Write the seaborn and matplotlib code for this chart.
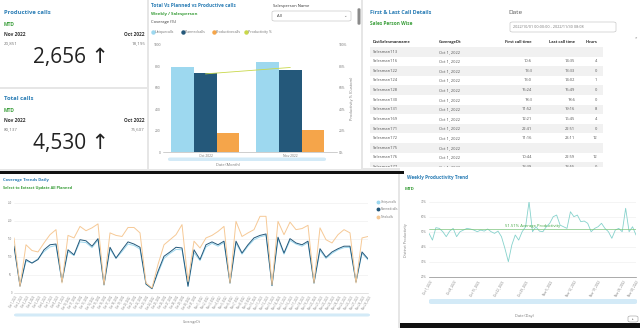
import numpy as np
import pandas as pd
import matplotlib
matplotlib.use("Agg")
import matplotlib.pyplot as plt
import seaborn as sns
from matplotlib.patches import Rectangle, FancyBboxPatch
from matplotlib.lines import Line2D
from matplotlib.transforms import Bbox, TransformedBbox

# ---------------- data ----------------
kpi_periods = ["Nov 2022", "Oct 2022"]
productive_calls = [20851, 18195]
total_calls = [80137, 75607]

months = ["Oct 2022", "Nov 2022"]
unique_calls = [794, 841]
planned_calls = [738, 766]
productive_month = [178, 206]
productivity_pct = [73, 79]

table_cols = ["DistSalesmanname", "CoverageDt", "First call time", "Last call time", "Hours"]
salesmen = ["Salesman113", "Salesman116", "Salesman122", "Salesman124", "Salesman128",
            "Salesman130", "Salesman131", "Salesman169", "Salesman171", "Salesman172",
            "Salesman175", "Salesman176", "Salesman177"]
coverage_dt = ["Oct 1, 2022"] * 13
first_call = ["", "10:6", "13:3", "13:0", "15:24", "18:3", "11:52", "12:21", "22:41",
              "11:16", "", "10:44", "13:39"]
last_call = ["", "14:35", "13:33", "14:02", "15:49", "18:6", "19:16", "16:45", "22:51",
             "23:11", "", "22:59", "13:55"]
hours = ["", "4", "0", "1", "0", "0", "8", "4", "0", "12", "", "12", "0"]

cov_unique = [135, 22, 88, 84, 95, 115, 128, 132, 30, 115, 104, 142, 140, 126, 147,
              22, 122, 96, 115, 136, 132, 122, 24, 12, 55, 96, 110, 121, 120, 18,
              112, 90, 128, 138, 130, 140, 27, 138, 108, 130, 148, 156, 160, 20, 150,
              108, 146, 136, 130, 140, 27, 118, 96, 110, 120, 126, 127, 30, 110, 92]
cov_planned = [130, 19, 93, 83, 93, 120, 134, 136, 32, 120, 106, 148, 145, 130, 151,
               23, 127, 97, 120, 142, 136, 127, 25, 12, 60, 102, 114, 127, 125, 19,
               120, 93, 134, 142, 134, 144, 28, 144, 111, 134, 153, 160, 164, 21, 155,
               111, 151, 139, 134, 144, 28, 123, 99, 114, 123, 130, 130, 31, 114, 95]
cov_total = [153, 19, 134, 118, 114, 139, 162, 176, 28, 160, 153, 185, 173, 181, 192,
             23, 167, 160, 157, 182, 182, 167, 28, 14, 79, 134, 148, 162, 190, 32,
             144, 125, 153, 160, 171, 185, 28, 199, 157, 167, 176, 213, 213, 23, 199,
             162, 197, 176, 179, 188, 28, 181, 148, 139, 162, 176, 167, 28, 153, 157]

prod_daily = [48.9, 44.4, 52.7, 52.2, 50.0, 46.7, 50.4, 52.2, 46.7, 50.0, 51.1, 52.2,
              51.8, 51.1, 50.0, 51.1, 50.4, 51.8, 50.0, 48.9, 50.4, 46.7, 38.9, 30.0,
              41.1, 47.8, 44.4, 50.0, 53.3, 70.0, 50.0, 53.3, 50.4, 50.0, 53.3, 55.6,
              60.0, 61.1, 54.4, 53.3, 52.2, 63.3, 60.0, 61.1, 56.7, 57.1, 55.6, 50.0,
              52.2, 53.3, 55.6, 52.2, 50.0, 45.6, 51.1, 52.2, 50.0, 65.6, 50.0, 53.3, 47.8]
avg_productivity = 51.51

cov_days = [d.strftime("%b %-d, %Y") for d in pd.date_range("2022-10-01", periods=len(cov_total))]
prod_days = [d.strftime("%b %-d, %Y") for d in pd.date_range("2022-10-01", periods=len(prod_daily))]

# ---------------- style ----------------
sns.set_theme(style="white")
plt.rcParams["font.family"] = ["Open Sans", "DejaVu Sans"]

TEAL = "#2a7db5"
GREEN = "#3a9e3a"
DARK = "#333333"
GREY = "#777777"
C_UNIQUE = "#9dd8ef"
C_PLANNED = "#24587a"
C_PROD = "#f5a54a"
C_PCT = "#c9d84a"
C_TOTAL = "#f6c996"
SCROLL = "#d3eaf7"

W, H = 640, 328
fig = plt.figure(figsize=(6.4, 3.28), dpi=100)
fig.patch.set_facecolor("#e6e6e6")


def rect(x0, y0, x1, y1):
    return [x0 / W, 1 - y1 / H, (x1 - x0) / W, (y1 - y0) / H]


def box(x0, y0, x1, y1, color, z=-1, ec="none", lw=0):
    fig.patches.append(Rectangle((x0 / W, 1 - y1 / H), (x1 - x0) / W, (y1 - y0) / H,
                                 transform=fig.transFigure, facecolor=color,
                                 edgecolor=ec, lw=lw, zorder=z))


def rbox(x0, y0, x1, y1, color, ec="none", lw=0.4, z=-0.5):
    fig.patches.append(FancyBboxPatch((x0 / W, 1 - y1 / H), (x1 - x0) / W, (y1 - y0) / H,
                                      boxstyle="round,pad=0,rounding_size=0.004",
                                      transform=fig.transFigure, facecolor=color,
                                      edgecolor=ec, lw=lw, zorder=z))


def txt(x, y, s, size=3.5, color=DARK, ha="left", va="center", weight="normal", **kw):
    return fig.text(x / W, 1 - y / H, s, fontsize=size, color=color, ha=ha, va=va,
                    fontweight=weight, **kw)


# panel backgrounds
box(0, 0, 147, 87, "white")
box(0, 89, 147, 169, "white")
box(149, 0, 361, 169, "white")
box(363, 0, 640, 168, "white")
box(0, 174, 398, 328, "white")
box(400, 168, 640, 323, "white")
box(0, 170.5, 404, 173.5, "#111111", z=-0.8)
box(400, 323, 640, 328, "#111111", z=-0.8)

# ---------------- KPI cards ----------------
def kpi(y0, title, values):
    txt(4, y0 + 12, title, 4.2, TEAL, weight="bold")
    txt(4, y0 + 24, "MTD", 3.5, GREEN, weight="bold")
    txt(4, y0 + 34, kpi_periods[0], 3.4, DARK, weight="bold")
    txt(4, y0 + 43, f"{values[0]:,}", 3.2, GREY)
    txt(145, y0 + 34, kpi_periods[1], 3.4, DARK, ha="right", weight="bold")
    txt(145, y0 + 43, f"{values[1]:,}", 3.2, GREY, ha="right")
    txt(71, y0 + 58, f"{values[0] - values[1]:,} \u2191", 15, "#222222", ha="center")


kpi(0, "Productive calls", productive_calls)
kpi(86, "Total calls", total_calls)

# ---------------- monthly bar chart ----------------
txt(151, 5.5, "Total Vs Planned vs Productive calls", 3.4, TEAL, weight="bold")
txt(151, 14, "Weekly / Salesperson", 3.2, GREEN, weight="bold")
txt(151, 21.5, "Coverage (%)", 3.0, DARK)
txt(273, 6, "Salesperson Name", 3.0, DARK)
rbox(272, 11, 351, 21, "white", ec="#bbbbbb")
txt(277, 16, "All", 3.0, DARK)
txt(345, 16, "\u2304", 3.0, GREY, ha="center")
rbox(357.5, 8, 360.5, 25, "#8a8a8a", z=-0.4)

legend_items = [(151, "Uniquecalls", C_UNIQUE), (181, "Plannedcalls", C_PLANNED),
                (212, "Productivecalls", C_PROD), (244, "Productivity %", C_PCT)]
for lx, lab, col in legend_items:
    fig.add_artist(Line2D([(lx + 1.5) / W], [1 - 32 / H], marker="o", ms=2.2, color=col,
                          transform=fig.transFigure, lw=0))
    txt(lx + 4, 32, lab, 2.6, GREY)

df_bar = pd.DataFrame({
    "Month": months * 3,
    "Series": ["Uniquecalls"] * 2 + ["Plannedcalls"] * 2 + ["Productivecalls"] * 2,
    "Calls": unique_calls + planned_calls + productive_month,
})
axb = fig.add_axes(rect(163, 45, 337, 152))
sns.barplot(data=df_bar, x="Month", y="Calls", hue="Series", ax=axb,
            palette=[C_UNIQUE, C_PLANNED, C_PROD], width=0.8, saturation=1,
            legend=False, linewidth=0)
axb.set_xlim(-0.5, 1.55)
axb.set_ylim(0, 1000)
axb.set_yticks(range(0, 1001, 200))
axb.tick_params(axis="both", labelsize=2.4, colors=GREY, length=0, pad=1.5)
axb.set_xlabel("")
axb.set_ylabel("")
axb.set_facecolor("none")
for s in ["top", "right", "left"]:
    axb.spines[s].set_visible(False)
axb.spines["bottom"].set_color("#aaaaaa")
axb.spines["bottom"].set_linewidth(0.4)

axp = fig.add_axes(rect(163, 45, 337, 152))
sns.lineplot(x=[0, 1], y=productivity_pct, ax=axp, color=C_PCT, lw=0.6)
axp.set_xlim(-0.5, 1.55)
axp.set_ylim(0, 100)
axp.set_facecolor("none")
axp.set_xticks([])
axp.yaxis.tick_right()
axp.set_yticks(range(0, 101, 20))
axp.set_yticklabels([f"{v}%" for v in range(0, 101, 20)])
axp.tick_params(axis="y", labelsize=2.4, colors=GREY, length=0, pad=1.5)
for s in axp.spines.values():
    s.set_visible(False)
txt(352, 98, "Productivity % (Custom)", 2.8, GREY, ha="center", rotation=90)
rbox(168, 157.5, 326, 161, SCROLL)
txt(228, 165, "Date (Month)", 2.8, GREY, ha="center")

# ---------------- call details table ----------------
txt(370, 12.5, "First & Last Call Details", 3.9, TEAL, weight="bold")
txt(370, 23.5, "Sales Person Wise", 3.4, GREEN, weight="bold")
txt(508, 12.5, "Date", 4.6, "#555555")
rbox(510, 22, 616, 32, "white", ec="#bbbbbb")
txt(513, 27, "2022/10/01 00:00:00 - 2022/11/30 08:08", 2.7, GREY)
txt(636, 38, "*", 3.0, GREY, ha="center")

col_x = [373, 439, 532, 575, 597]
col_ha = ["left", "left", "right", "right", "right"]
for cx, ha, lab in zip(col_x, col_ha, table_cols):
    txt(cx, 42, lab, 2.9, DARK, ha=ha, weight="bold")
clip = TransformedBbox(Bbox.from_extents(0, 1 - 167.5 / H, 1, 1), fig.transFigure)
for i, row in enumerate(zip(salesmen, coverage_dt, first_call, last_call, hours)):
    ry = 51.7 + i * 9.6
    if i % 2 == 0:
        box(370, ry - 4.8, 603, min(ry + 4.8, 167.5), "#f1f1f1", z=-0.9)
    for cx, ha, val in zip(col_x, col_ha, row):
        t = txt(cx, ry, val, 2.9, "#555555", ha=ha)
        t.set_clip_box(clip)
        t.set_clip_on(True)

# ---------------- daily coverage trend ----------------
txt(3, 180, "Coverage Trends Daily", 3.0, TEAL, weight="bold")
txt(3, 187.5, "Select to Extract Update All Planned", 2.8, GREEN, weight="bold")

n_cov = len(cov_total)
df_cov = pd.DataFrame({
    "Day": list(range(n_cov)) * 3,
    "Calls": cov_unique + cov_planned + cov_total,
    "Series": ["Uniquecalls"] * n_cov + ["Plannedcalls"] * n_cov + ["Totalcalls"] * n_cov,
})
axc = fig.add_axes(rect(14, 203, 368, 293))
sns.lineplot(data=df_cov, x="Day", y="Calls", hue="Series", ax=axc,
             palette=[C_UNIQUE, C_PLANNED, C_TOTAL], lw=0.7, legend=False)
axc.set_xlim(0, n_cov - 1)
axc.set_ylim(0, 250)
axc.set_yticks(range(0, 251, 50))
axc.set_xticks(range(n_cov))
axc.set_xticklabels(cov_days, rotation=60, ha="right", rotation_mode="anchor")
axc.tick_params(axis="both", labelsize=1.8, colors=GREY, length=0, pad=1.5)
axc.grid(axis="y", color="#ececec", lw=0.4)
axc.set_xlabel("")
axc.set_ylabel("")
axc.set_facecolor("none")
for s in ["top", "right", "left"]:
    axc.spines[s].set_visible(False)
axc.spines["bottom"].set_color("#cccccc")
axc.spines["bottom"].set_linewidth(0.4)
axc.spines["bottom"].set_linestyle((0, (2, 1)))

for i, (lab, col) in enumerate([("Uniquecalls", C_UNIQUE), ("Plannedcalls", C_PLANNED),
                                 ("Totalcalls", C_TOTAL)]):
    yy = 201.5 + i * 7.8
    fig.add_artist(Line2D([378 / W], [1 - yy / H], marker="o", ms=1.8, color=col,
                          transform=fig.transFigure, lw=0))
    txt(381, yy, lab, 2.2, GREY)
rbox(14, 313.5, 370, 316.5, SCROLL)
txt(192, 322, "CoverageDt", 2.3, GREY, ha="center")

# ---------------- weekly productivity ----------------
txt(407, 178, "Weekly Productivity Trend", 3.3, TEAL, weight="bold")
txt(405, 189, "MTD", 3.2, GREEN, weight="bold")

axw = fig.add_axes(rect(429, 201.7, 636, 276.7))
sns.lineplot(x=np.arange(len(prod_daily)), y=prod_daily, ax=axw, color="#86d2cc", lw=0.6)
axw.axhline(avg_productivity, color="#7cc47c", lw=0.5)
axw.set_xlim(0, len(prod_daily) - 1)
axw.set_ylim(20, 70)
axw.set_yticks(range(20, 71, 10))
axw.set_yticklabels([f"{v}%" for v in range(20, 71, 10)])
tick_pos = list(range(0, len(prod_daily), 7)) + [len(prod_daily) - 1]
axw.set_xticks(tick_pos)
axw.set_xticklabels([prod_days[i] for i in tick_pos], rotation=60, ha="right",
                    rotation_mode="anchor")
axw.tick_params(axis="y", labelsize=2.2, colors=GREY, length=0, pad=1.5)
axw.tick_params(axis="x", labelsize=2.2, colors=GREY, length=1.5, width=0.4,
                direction="inout", pad=1.5)
axw.grid(axis="y", color="#ececec", lw=0.4)
axw.set_facecolor("none")
for s in ["top", "right", "left"]:
    axw.spines[s].set_visible(False)
axw.spines["bottom"].set_color("#888888")
axw.spines["bottom"].set_linewidth(0.5)
axw.text(0.5, avg_productivity + 1.2, f"{avg_productivity:.2f}% Average Productivity",
         transform=axw.get_yaxis_transform(), fontsize=3.0, color="#3aa33a",
         ha="center", va="bottom")
txt(406, 240, "Distinct Productivity", 2.6, GREY, ha="center", rotation=90)
rbox(429, 299, 637, 304, SCROLL)
txt(524, 316, "Date (Day)", 2.8, GREY, ha="center")
rbox(628, 316, 638, 322, "white", ec="#999999")
txt(633, 319, "\u25b8", 2.4, GREY, ha="center")

fig.savefig("out.png", dpi=100, facecolor=fig.get_facecolor())
